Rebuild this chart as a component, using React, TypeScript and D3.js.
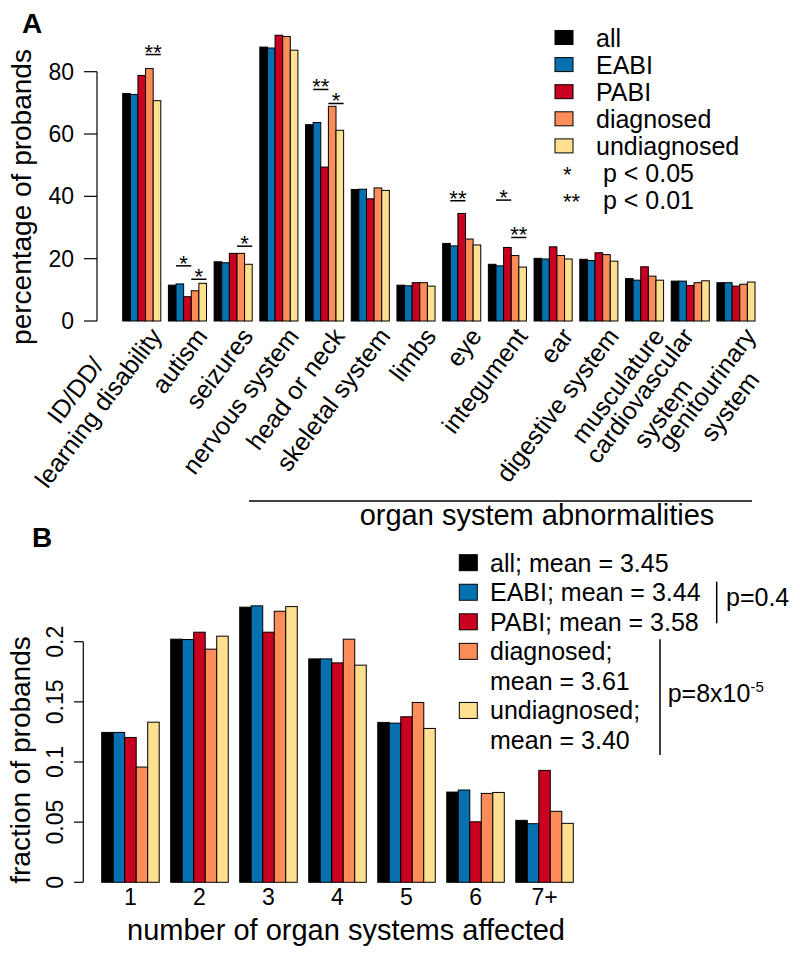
import React, { useEffect, useRef } from 'react';
import * as d3 from 'd3';

const FONT = '"Liberation Sans", Arial, Helvetica, sans-serif';
const width = 800;
const height = 959;

// groups shared by both panels
const series = ['all', 'EABI', 'PABI', 'diagnosed', 'undiagnosed'];
const colors = ['#000000', '#0571b0', '#ca0020', '#fc8d59', '#fee090'];

// panel A: percentage of probands
const categoriesA = [
    ['ID/DD/', 'learning disability'],
    ['autism'],
    ['seizures'],
    ['nervous system'],
    ['head or neck'],
    ['skeletal system'],
    ['limbs'],
    ['eye'],
    ['integument'],
    ['ear'],
    ['digestive system'],
    ['musculature'],
    ['cardiovascular', 'system'],
    ['genitourinary', 'system'],
];
const allA = [73.0, 11.5, 19.0, 87.9, 63.0, 42.2, 11.5, 24.9, 18.2, 20.1, 19.8, 13.6, 12.8, 12.3];
const eabiA = [72.7, 11.9, 18.7, 87.6, 63.7, 42.3, 11.3, 24.1, 17.7, 19.9, 19.4, 13.1, 12.8, 12.3];
const pabiA = [78.8, 7.8, 21.7, 91.7, 49.4, 39.2, 12.3, 34.5, 23.6, 23.8, 21.9, 17.4, 11.4, 11.2];
const diagA = [81.0, 9.7, 21.7, 91.3, 68.9, 42.7, 12.3, 26.3, 21.0, 21.0, 21.3, 14.4, 12.3, 11.8];
const undiagA = [70.7, 12.1, 18.2, 86.9, 61.2, 41.9, 11.2, 24.4, 17.3, 19.9, 19.2, 13.1, 12.9, 12.5];
const ticksA = [0, 20, 40, 60, 80];

// significance brackets: category index, first/last bar index, height, stars
const sigA = [
    { cat: 0, a: 3, b: 4, level: 85.5, label: '**' },
    { cat: 1, a: 1, b: 2, level: 17.7, label: '*' },
    { cat: 1, a: 3, b: 4, level: 13.4, label: '*' },
    { cat: 2, a: 3, b: 4, level: 24.0, label: '*' },
    { cat: 4, a: 1, b: 2, level: 74.3, label: '**' },
    { cat: 4, a: 3, b: 4, level: 69.8, label: '*' },
    { cat: 7, a: 1, b: 2, level: 38.6, label: '**' },
    { cat: 8, a: 1, b: 2, level: 38.8, label: '*' },
    { cat: 8, a: 3, b: 4, level: 26.8, label: '**' },
];
const pStars = ['*', '**'];
const pTexts = [' p < 0.05', ' p < 0.01'];

// panel B: fraction of probands
const categoriesB = ['1', '2', '3', '4', '5', '6', '7+'];
const allB = [0.1246, 0.2021, 0.2287, 0.1857, 0.1329, 0.0750, 0.0515];
const eabiB = [0.1246, 0.2018, 0.2298, 0.1857, 0.1323, 0.0767, 0.0487];
const pabiB = [0.1204, 0.2079, 0.2079, 0.1824, 0.1376, 0.0503, 0.0930];
const diagB = [0.0958, 0.1938, 0.2253, 0.2021, 0.1495, 0.0739, 0.0590];
const undiagB = [0.1331, 0.2046, 0.2292, 0.1805, 0.1279, 0.0747, 0.0490];
const ticksB = [0, 0.05, 0.1, 0.15, 0.2];
const tickLabelsB = ['0', '0.05', '0.1', '0.15', '0.2'];
const legendB = [
    ['all; mean = 3.45'],
    ['EABI; mean = 3.44'],
    ['PABI; mean = 3.58'],
    ['diagnosed;', 'mean = 3.61'],
    ['undiagnosed;', 'mean = 3.40'],
];

const App = () => {
    const canvas = useRef<SVGSVGElement>(null);

    useEffect(() => {
        const svg = d3.select(canvas.current);
        svg.selectAll('*').remove();
        svg.style('font-family', FONT);

        // ---------------- panel A ----------------
        const dataA = [allA, eabiA, pabiA, diagA, undiagA];
        const yA = d3.scaleLinear().domain([0, 80]).range([321, 71.7]);
        const xA = d3.scaleBand<number>().domain(d3.range(categoriesA.length))
            .range([122.7, 755]).paddingInner(1 / 6).paddingOuter(0);
        const xA1 = d3.scaleBand<number>().domain(d3.range(series.length)).range([0, xA.bandwidth()]);

        const gA = svg.append('g');
        categoriesA.forEach((c, i) => {
            gA.append('g')
                .selectAll('rect')
                .data(dataA.map(s => s[i]))
                .enter()
                .append('rect')
                .attr('x', (d, j) => xA(i)! + xA1(j)!)
                .attr('y', d => yA(d))
                .attr('width', xA1.bandwidth())
                .attr('height', d => yA(0) - yA(d))
                .attr('fill', (d, j) => colors[j])
                .attr('stroke', '#000')
                .attr('stroke-width', 1);
        });

        // y axis
        gA.append('line').attr('x1', 97).attr('x2', 97).attr('y1', yA(0)).attr('y2', yA(80))
            .attr('stroke', '#000').attr('stroke-width', 1.2);
        ticksA.forEach(t => {
            gA.append('line').attr('x1', 84).attr('x2', 97).attr('y1', yA(t)).attr('y2', yA(t))
                .attr('stroke', '#000').attr('stroke-width', 1.2);
            gA.append('text').attr('x', 74).attr('y', yA(t) + 8).attr('text-anchor', 'end')
                .attr('font-size', 23).text(t);
        });
        gA.append('text').attr('transform', 'translate(31,197) rotate(-90)')
            .attr('text-anchor', 'middle').attr('font-size', 28).text('percentage of probands');
        gA.append('text').attr('x', 22).attr('y', 33).attr('font-size', 28)
            .attr('font-weight', 'bold').text('A');

        // significance marks
        sigA.forEach(s => {
            const x1 = xA(s.cat)! + xA1(s.a)!;
            const x2 = xA(s.cat)! + xA1(s.b)! + xA1.bandwidth();
            gA.append('line').attr('x1', x1).attr('x2', x2).attr('y1', yA(s.level)).attr('y2', yA(s.level))
                .attr('stroke', '#000').attr('stroke-width', 1.5);
            gA.append('text').attr('x', (x1 + x2) / 2).attr('y', yA(s.level) + 5)
                .attr('text-anchor', 'middle').attr('font-size', 22).text(s.label);
        });

        // rotated category labels, longest line ends at the anchor, others centred on it
        const angle = 53;
        const lineH = 29;
        // the cardiovascular block sits a little higher up in the original
        const nudge: Record<number, [number, number]> = { 12: [-10, -13] };
        categoriesA.forEach((lines, i) => {
            const ax = xA(i)! + xA.bandwidth() / 2 + 14;
            const [nx, ny] = nudge[i] || [0, 0];
            const g = gA.append('g')
                .attr('transform', `translate(${ax},331) rotate(${-angle}) translate(${nx},${ny})`);
            const texts = lines.map(l => g.append('text')
                .attr('font-size', 25)
                .attr('dominant-baseline', 'central')
                .text(l));
            const widths = texts.map(t => (t.node() as SVGTextElement).getComputedTextLength());
            const maxW = d3.max(widths) || 0;
            const longest = widths.indexOf(maxW);
            texts.forEach((t, k) => t.attr('text-anchor', 'middle')
                .attr('x', -maxW / 2)
                .attr('y', (k - longest) * lineH));
        });

        // organ system bracket
        gA.append('line').attr('x1', 249).attr('x2', 752).attr('y1', 501).attr('y2', 501)
            .attr('stroke', '#000').attr('stroke-width', 1.5);
        gA.append('text').attr('x', 537).attr('y', 525).attr('text-anchor', 'middle')
            .attr('font-size', 29).text('organ system abnormalities');

        // legend A
        const rowA = 27.1;
        series.forEach((s, i) => {
            const cy = 37.5 + i * rowA;
            gA.append('rect').attr('x', 555).attr('y', cy - 7).attr('width', 18).attr('height', 14)
                .attr('fill', colors[i]).attr('stroke', '#000').attr('stroke-width', 1);
            gA.append('text').attr('x', 596).attr('y', cy + 9).attr('font-size', 25).text(s);
        });
        pStars.forEach((st, i) => {
            const cy = 37.5 + (series.length + i) * rowA;
            gA.append('text').attr('x', 563).attr('y', cy + 9).attr('font-size', 22).text(st);
            gA.append('text').attr('x', 596).attr('y', cy + 9).attr('font-size', 25)
                .style('white-space', 'pre').text(pTexts[i]);
        });

        // ---------------- panel B ----------------
        const dataB = [allB, eabiB, pabiB, diagB, undiagB];
        const yB = d3.scaleLinear().domain([0, 0.2]).range([882.3, 641.7]);
        const xB = d3.scaleBand<string>().domain(categoriesB)
            .range([101.7, 573.3]).paddingInner(1 / 6).paddingOuter(0);
        const xB1 = d3.scaleBand<number>().domain(d3.range(series.length)).range([0, xB.bandwidth()]);

        const gB = svg.append('g');
        categoriesB.forEach((c, i) => {
            gB.append('g')
                .selectAll('rect')
                .data(dataB.map(s => s[i]))
                .enter()
                .append('rect')
                .attr('x', (d, j) => xB(c)! + xB1(j)!)
                .attr('y', d => yB(d))
                .attr('width', xB1.bandwidth())
                .attr('height', d => yB(0) - yB(d))
                .attr('fill', (d, j) => colors[j])
                .attr('stroke', '#000')
                .attr('stroke-width', 1);
            gB.append('text').attr('x', xB(c)! + xB.bandwidth() / 2).attr('y', 905)
                .attr('text-anchor', 'middle').attr('font-size', 23).text(c);
        });

        gB.append('line').attr('x1', 83.3).attr('x2', 83.3).attr('y1', yB(0)).attr('y2', yB(0.2))
            .attr('stroke', '#000').attr('stroke-width', 1.2);
        ticksB.forEach((t, i) => {
            gB.append('line').attr('x1', 74).attr('x2', 83.3).attr('y1', yB(t)).attr('y2', yB(t))
                .attr('stroke', '#000').attr('stroke-width', 1.2);
            gB.append('text').attr('transform', `translate(63,${yB(t)}) rotate(-90)`)
                .attr('text-anchor', 'middle').attr('font-size', 23).text(tickLabelsB[i]);
        });
        gB.append('text').attr('transform', 'translate(30,760) rotate(-90)')
            .attr('text-anchor', 'middle').attr('font-size', 28).text('fraction of probands');
        gB.append('text').attr('x', 346).attr('y', 940).attr('text-anchor', 'middle')
            .attr('font-size', 29).text('number of organ systems affected');
        gB.append('text').attr('x', 32).attr('y', 547).attr('font-size', 28)
            .attr('font-weight', 'bold').text('B');

        // legend B
        const rowB = 29.55;
        let row = 0;
        legendB.forEach((lines, i) => {
            const cy = 562.7 + row * rowB;
            gB.append('rect').attr('x', 459.3).attr('y', cy - 8).attr('width', 18).attr('height', 16)
                .attr('fill', colors[i]).attr('stroke', '#000').attr('stroke-width', 1);
            lines.forEach((l, k) => {
                gB.append('text').attr('x', 490).attr('y', 562.7 + (row + k) * rowB + 9)
                    .attr('font-size', 25).text(l);
            });
            row += lines.length;
        });
        gB.append('line').attr('x1', 716.7).attr('x2', 716.7).attr('y1', 581.7).attr('y2', 623.3)
            .attr('stroke', '#000').attr('stroke-width', 1.5);
        gB.append('text').attr('x', 726).attr('y', 606).attr('font-size', 25).text('p=0.4');
        gB.append('line').attr('x1', 660).attr('x2', 660).attr('y1', 639.3).attr('y2', 755)
            .attr('stroke', '#000').attr('stroke-width', 1.5);
        const pt = gB.append('text').attr('x', 667.7).attr('y', 702).attr('font-size', 25);
        pt.append('tspan').text('p=8x10');
        pt.append('tspan').attr('font-size', 15).attr('dy', -10).text('-5');
    }, []);

    return (
        <div>
            <svg ref={canvas} width={width} height={height}
                style={{ position: 'absolute', left: 0, top: 0, background: '#fff' }} />
        </div>
    );
};

export default App;
